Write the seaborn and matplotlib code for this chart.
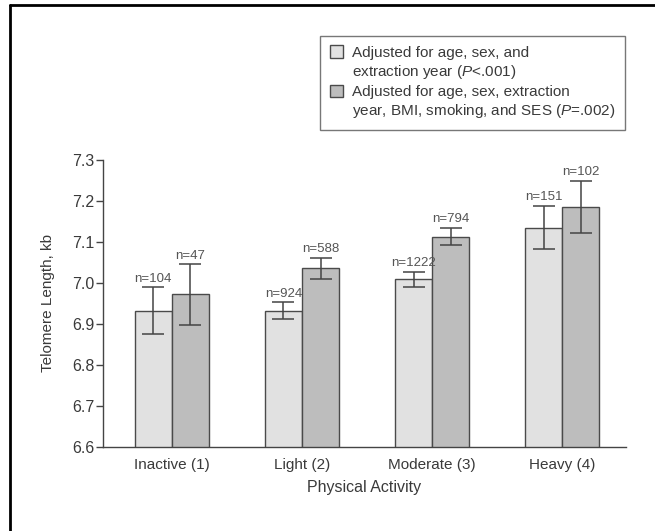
import matplotlib
matplotlib.use("Agg")
import matplotlib.pyplot as plt
from matplotlib.lines import Line2D
from matplotlib.patches import Patch
import seaborn as sns
import numpy as np
import pandas as pd

# Values
categories = ["Inactive (1)", "Light (2)", "Moderate (3)", "Heavy (4)"]
model_label_lines = [["Adjusted for age, sex, and", "extraction year ($P$<.001)"],
                     ["Adjusted for age, sex, extraction",
                      "year, BMI, smoking, and SES ($P$=.002)"]]
model1_mean = [6.932, 6.932, 7.009, 7.135]
model1_err = [0.057, 0.021, 0.018, 0.053]
model1_n = [104, 924, 1222, 151]
model2_mean = [6.972, 7.036, 7.113, 7.185]
model2_err = [0.074, 0.026, 0.021, 0.064]
model2_n = [47, 588, 794, 102]

bar_colors = ["#e1e1e1", "#bdbdbd"]
text_color = "#3a3a3a"

df = pd.DataFrame({
    "activity": categories * 2,
    "model": ["m1"] * 4 + ["m2"] * 4,
    "telomere": model1_mean + model2_mean,
})

sns.set_style("white")
plt.rcParams["font.family"] = ["Liberation Sans", "DejaVu Sans"]
plt.rcParams["mathtext.fontset"] = "custom"
plt.rcParams["mathtext.it"] = "Liberation Sans:italic"
plt.rcParams["mathtext.rm"] = "Liberation Sans"

fig = plt.figure(figsize=(6.55, 5.31), dpi=100)
ax = fig.add_axes([0.157, 0.158, 0.799, 0.541])

sns.barplot(data=df, x="activity", y="telomere", hue="model",
            palette=bar_colors, width=0.57, gap=0, errorbar=None,
            edgecolor="#4a4a4a", linewidth=1.0, legend=False, ax=ax)

errs = [model1_err, model2_err]
ns = [model1_n, model2_n]
for cont, err, nvals in zip(ax.containers, errs, ns):
    xs = [b.get_x() + b.get_width() / 2 for b in cont]
    ys = [b.get_y() + b.get_height() for b in cont]
    ax.errorbar(xs, ys, yerr=err, fmt="none", ecolor="#444444",
                elinewidth=1.1, capsize=8, capthick=1.1)
    for x, y, e, n in zip(xs, ys, err, nvals):
        ax.text(x, y + e + 0.006, f"n={n}", ha="center", va="bottom",
                fontsize=9.5, color="#555555")

ax.set_ylim(6.6, 7.3)
ax.set_xlim(-0.53, 3.49)
ax.set_yticks(np.arange(6.6, 7.31, 0.1))
ax.set_yticklabels([f"{v:.1f}" for v in np.arange(6.6, 7.31, 0.1)])
for s in ["top", "right"]:
    ax.spines[s].set_visible(False)
for s in ["left", "bottom"]:
    ax.spines[s].set_color("#444444")
    ax.spines[s].set_linewidth(1.0)
ax.tick_params(axis="y", left=True, length=5, width=1, color="#444444",
               labelsize=11.5, labelcolor=text_color, pad=1)
ax.tick_params(axis="x", bottom=False, labelsize=11, labelcolor=text_color, pad=4)
ax.set_xlabel("Physical Activity", fontsize=11.5, color=text_color, labelpad=6)
ax.set_ylabel("Telomere Length, kb", fontsize=11, color=text_color, labelpad=12)

# legend: swatch sits next to the first line of each two-line label
handles, labels = [], []
for c, lines in zip(bar_colors, model_label_lines):
    handles += [Patch(facecolor=c, edgecolor="#4a4a4a", linewidth=1.0),
                Patch(facecolor="none", edgecolor="none")]
    labels += lines
leg = fig.legend(handles, labels, loc="upper right",
                 bbox_to_anchor=(625 / 655, 1 - 36 / 531), fontsize=11,
                 frameon=True, fancybox=False, edgecolor="#555555",
                 handlelength=0.9, handleheight=0.9, handletextpad=0.6,
                 labelspacing=0.22, borderpad=0.6, borderaxespad=0,
                 labelcolor=text_color)
leg.get_frame().set_linewidth(1.0)

# Figure border on top and left
fig.add_artist(Line2D([10 / 655, 1.0], [1 - 5 / 531, 1 - 5 / 531],
                      transform=fig.transFigure, color="black", linewidth=2))
fig.add_artist(Line2D([10 / 655, 10 / 655], [0.0, 1 - 5 / 531],
                      transform=fig.transFigure, color="black", linewidth=2))

fig.savefig("out.png", dpi=100)
